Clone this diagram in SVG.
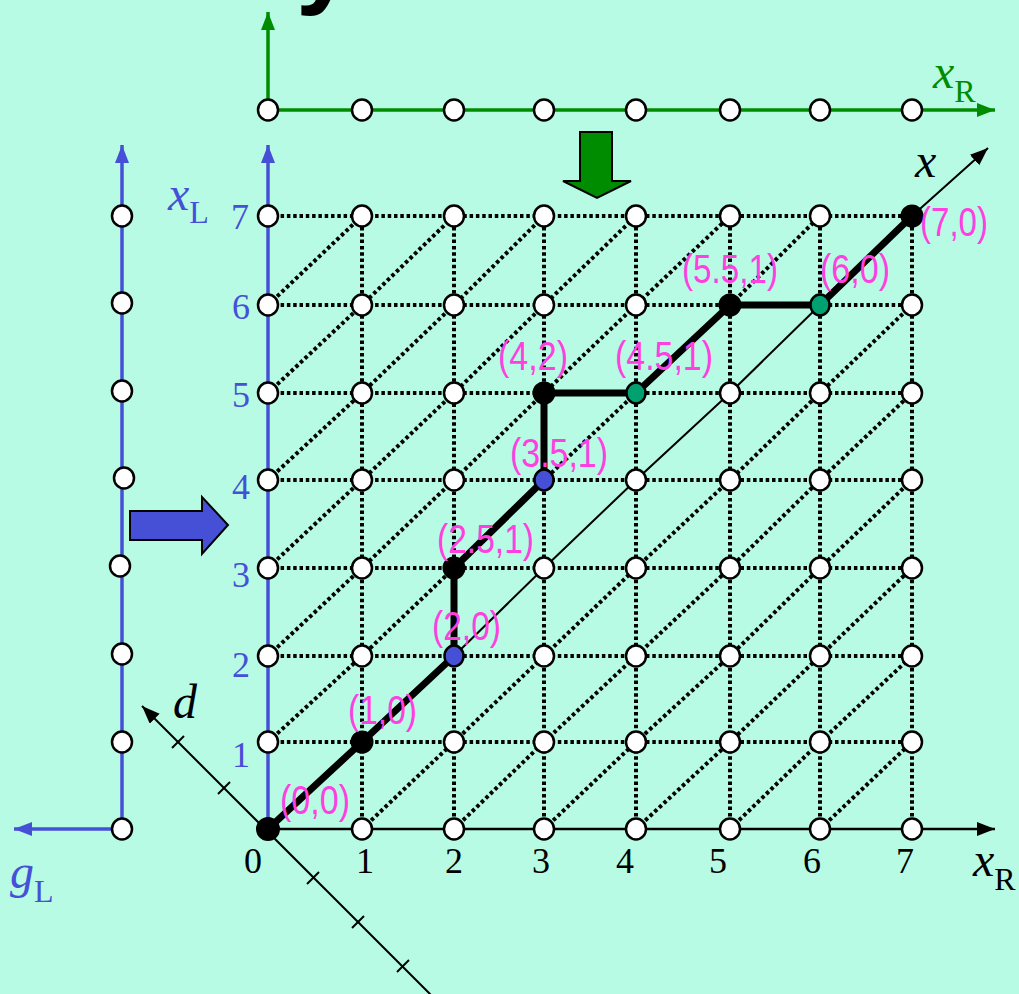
<svg xmlns="http://www.w3.org/2000/svg" width="1019" height="994" viewBox="0 0 1019 994">
<style>
.dot{fill:none;stroke:#000;stroke-width:4;stroke-dasharray:3.5 2.8}
.wn{fill:#fff;stroke:#000;stroke-width:2.5}
.bn{fill:#000;stroke:#000;stroke-width:2}
.blu{fill:#4650D6;stroke:#000;stroke-width:2.5}
.grn{fill:#00A070;stroke:#000;stroke-width:2.5}
.lab{font-family:"Liberation Sans",Arial,sans-serif;font-size:40px;fill:#FF40E0}
.num{font-family:"Liberation Serif","Times New Roman",serif;font-size:36px;fill:#000;text-anchor:middle}
.bnum{font-family:"Liberation Serif","Times New Roman",serif;font-size:36px;fill:#4650D6;text-anchor:middle}
.it{font-family:"Liberation Serif","Times New Roman",serif;font-style:italic;font-size:48px}
.sub{font-family:"Liberation Serif","Times New Roman",serif;font-size:32px}
</style>
<defs>
<marker id="ak" markerUnits="userSpaceOnUse" markerWidth="20" markerHeight="16" refX="18" refY="7" orient="auto"><path d="M0,0 L18,7 L0,14 z" fill="#000"/></marker>
<marker id="ag" markerUnits="userSpaceOnUse" markerWidth="20" markerHeight="16" refX="18" refY="7" orient="auto"><path d="M0,0 L18,7 L0,14 z" fill="#008C00"/></marker>
<marker id="ab" markerUnits="userSpaceOnUse" markerWidth="20" markerHeight="16" refX="18" refY="7" orient="auto"><path d="M0,0 L18,7 L0,14 z" fill="#4650D6"/></marker>
</defs>
<rect x="0" y="0" width="1019" height="994" fill="#B7FBE4"/>
<text x="296" y="-6" font-family="Liberation Sans,Arial,sans-serif" font-weight="bold" font-size="104" fill="#000">y</text>

<g id="connectors">
<g id="dotted-horizontal">
<line class="dot" x1="268" y1="742" x2="912" y2="742"/>
<line class="dot" x1="268" y1="656" x2="912" y2="656"/>
<line class="dot" x1="268" y1="568" x2="912" y2="568"/>
<line class="dot" x1="268" y1="480" x2="912" y2="480"/>
<line class="dot" x1="268" y1="393" x2="912" y2="393"/>
<line class="dot" x1="268" y1="305" x2="912" y2="305"/>
<line class="dot" x1="268" y1="216" x2="912" y2="216"/>
</g>
<g id="dotted-vertical">
<line class="dot" x1="362" y1="829" x2="362" y2="216"/>
<line class="dot" x1="454" y1="829" x2="454" y2="216"/>
<line class="dot" x1="544" y1="829" x2="544" y2="216"/>
<line class="dot" x1="636" y1="829" x2="636" y2="216"/>
<line class="dot" x1="730" y1="829" x2="730" y2="216"/>
<line class="dot" x1="820" y1="829" x2="820" y2="216"/>
<line class="dot" x1="912" y1="829" x2="912" y2="216"/>
</g>
<g id="dotted-diagonal">
<polyline class="dot" points="268,742 362,656 454,568 544,480 636,393 730,305 820,216"/>
<polyline class="dot" points="268,656 362,568 454,480 544,393 636,305 730,216"/>
<polyline class="dot" points="268,568 362,480 454,393 544,305 636,216"/>
<polyline class="dot" points="268,480 362,393 454,305 544,216"/>
<polyline class="dot" points="268,393 362,305 454,216"/>
<polyline class="dot" points="268,305 362,216"/>
<polyline class="dot" points="362,829 454,742 544,656 636,568 730,480 820,393 912,305"/>
<polyline class="dot" points="454,829 544,742 636,656 730,568 820,480 912,393"/>
<polyline class="dot" points="544,829 636,742 730,656 820,568 912,480"/>
<polyline class="dot" points="636,829 730,742 820,656 912,568"/>
<polyline class="dot" points="730,829 820,742 912,656"/>
<polyline class="dot" points="820,829 912,742"/>
</g>
<line x1="268" y1="829" x2="995" y2="829" stroke="#000" stroke-width="2.5" marker-end="url(#ak)"/>
<polyline points="268,829 362,742 454,656 544,568 636,480 730,393 820,305 912,216 988,148" fill="none" stroke="#000" stroke-width="2" marker-end="url(#ak)"/>
<line x1="442" y1="1006" x2="142" y2="706" stroke="#000" stroke-width="2" marker-end="url(#ak)"/>
<g stroke="#000" stroke-width="2">
<line x1="172" y1="748" x2="184" y2="736"/>
<line x1="218" y1="794" x2="230" y2="782"/>
<line x1="307" y1="884" x2="319" y2="872"/>
<line x1="352" y1="928" x2="364" y2="916"/>
<line x1="397" y1="972" x2="409" y2="960"/>
</g>
<line x1="268" y1="829" x2="268" y2="145" stroke="#4650D6" stroke-width="3.5" marker-end="url(#ab)"/>
<line x1="122" y1="829" x2="122" y2="145" stroke="#4650D6" stroke-width="3.5" marker-end="url(#ab)"/>
<line x1="122" y1="829" x2="14" y2="829" stroke="#4650D6" stroke-width="3.5" marker-end="url(#ab)"/>
<line x1="268" y1="110" x2="995" y2="110" stroke="#008C00" stroke-width="3.5" marker-end="url(#ag)"/>
<line x1="268" y1="110" x2="268" y2="12" stroke="#008C00" stroke-width="3.5" marker-end="url(#ag)"/>
<polyline points="268,829 362,742 454,656 454,568 544,480 544,393 636,393 730,305 820,305 912,216" fill="none" stroke="#000" stroke-width="7" stroke-linejoin="round"/>
<polygon points="130,511 202,511 202,497 228,525 202,554 202,540 130,540" fill="#4650D6" stroke="#000" stroke-width="2"/>
<polygon points="580,132 612,132 612,181 631,181 597,198 563,181 580,181" fill="#008C00" stroke="#000" stroke-width="2"/>
</g>

<g id="n-0-0"><ellipse class="bn" cx="268" cy="829" rx="11" ry="11"/></g>
<g id="n-1-0"><ellipse class="wn" cx="362" cy="829" rx="10" ry="10.5"/></g>
<g id="n-2-0"><ellipse class="wn" cx="454" cy="829" rx="10" ry="10.5"/></g>
<g id="n-3-0"><ellipse class="wn" cx="544" cy="829" rx="10" ry="10.5"/></g>
<g id="n-4-0"><ellipse class="wn" cx="636" cy="829" rx="10" ry="10.5"/></g>
<g id="n-5-0"><ellipse class="wn" cx="730" cy="829" rx="10" ry="10.5"/></g>
<g id="n-6-0"><ellipse class="wn" cx="820" cy="829" rx="10" ry="10.5"/></g>
<g id="n-7-0"><ellipse class="wn" cx="912" cy="829" rx="10" ry="10.5"/></g>

<g id="n-0-1"><ellipse class="wn" cx="268" cy="742" rx="10" ry="10.5"/></g>
<g id="n-1-1"><ellipse class="bn" cx="362" cy="742" rx="10.5" ry="10.5"/></g>
<g id="n-2-1"><ellipse class="wn" cx="454" cy="742" rx="10" ry="10.5"/></g>
<g id="n-3-1"><ellipse class="wn" cx="544" cy="742" rx="10" ry="10.5"/></g>
<g id="n-4-1"><ellipse class="wn" cx="636" cy="742" rx="10" ry="10.5"/></g>
<g id="n-5-1"><ellipse class="wn" cx="730" cy="742" rx="10" ry="10.5"/></g>
<g id="n-6-1"><ellipse class="wn" cx="820" cy="742" rx="10" ry="10.5"/></g>
<g id="n-7-1"><ellipse class="wn" cx="912" cy="742" rx="10" ry="10.5"/></g>

<g id="n-0-2"><ellipse class="wn" cx="268" cy="656" rx="10" ry="10.5"/></g>
<g id="n-1-2"><ellipse class="wn" cx="362" cy="656" rx="10" ry="10.5"/></g>
<g id="n-2-2"><ellipse class="blu" cx="454" cy="656" rx="9.5" ry="10.5"/></g>
<g id="n-3-2"><ellipse class="wn" cx="544" cy="656" rx="10" ry="10.5"/></g>
<g id="n-4-2"><ellipse class="wn" cx="636" cy="656" rx="10" ry="10.5"/></g>
<g id="n-5-2"><ellipse class="wn" cx="730" cy="656" rx="10" ry="10.5"/></g>
<g id="n-6-2"><ellipse class="wn" cx="820" cy="656" rx="10" ry="10.5"/></g>
<g id="n-7-2"><ellipse class="wn" cx="912" cy="656" rx="10" ry="10.5"/></g>

<g id="n-0-3"><ellipse class="wn" cx="268" cy="568" rx="10" ry="10.5"/></g>
<g id="n-1-3"><ellipse class="wn" cx="362" cy="568" rx="10" ry="10.5"/></g>
<g id="n-2-3"><ellipse class="bn" cx="454" cy="568" rx="10.5" ry="10.5"/></g>
<g id="n-3-3"><ellipse class="wn" cx="544" cy="568" rx="10" ry="10.5"/></g>
<g id="n-4-3"><ellipse class="wn" cx="636" cy="568" rx="10" ry="10.5"/></g>
<g id="n-5-3"><ellipse class="wn" cx="730" cy="568" rx="10" ry="10.5"/></g>
<g id="n-6-3"><ellipse class="wn" cx="820" cy="568" rx="10" ry="10.5"/></g>
<g id="n-7-3"><ellipse class="wn" cx="912" cy="568" rx="10" ry="10.5"/></g>

<g id="n-0-4"><ellipse class="wn" cx="268" cy="480" rx="10" ry="10.5"/></g>
<g id="n-1-4"><ellipse class="wn" cx="362" cy="480" rx="10" ry="10.5"/></g>
<g id="n-2-4"><ellipse class="wn" cx="454" cy="480" rx="10" ry="10.5"/></g>
<g id="n-3-4"><ellipse class="blu" cx="544" cy="480" rx="9.5" ry="10.5"/></g>
<g id="n-4-4"><ellipse class="wn" cx="636" cy="480" rx="10" ry="10.5"/></g>
<g id="n-5-4"><ellipse class="wn" cx="730" cy="480" rx="10" ry="10.5"/></g>
<g id="n-6-4"><ellipse class="wn" cx="820" cy="480" rx="10" ry="10.5"/></g>
<g id="n-7-4"><ellipse class="wn" cx="912" cy="480" rx="10" ry="10.5"/></g>

<g id="n-0-5"><ellipse class="wn" cx="268" cy="393" rx="10" ry="10.5"/></g>
<g id="n-1-5"><ellipse class="wn" cx="362" cy="393" rx="10" ry="10.5"/></g>
<g id="n-2-5"><ellipse class="wn" cx="454" cy="393" rx="10" ry="10.5"/></g>
<g id="n-3-5"><ellipse class="bn" cx="544" cy="393" rx="10.5" ry="10.5"/></g>
<g id="n-4-5"><ellipse class="grn" cx="636" cy="393" rx="9.5" ry="10.5"/></g>
<g id="n-5-5"><ellipse class="wn" cx="730" cy="393" rx="10" ry="10.5"/></g>
<g id="n-6-5"><ellipse class="wn" cx="820" cy="393" rx="10" ry="10.5"/></g>
<g id="n-7-5"><ellipse class="wn" cx="912" cy="393" rx="10" ry="10.5"/></g>

<g id="n-0-6"><ellipse class="wn" cx="268" cy="305" rx="10" ry="10.5"/></g>
<g id="n-1-6"><ellipse class="wn" cx="362" cy="305" rx="10" ry="10.5"/></g>
<g id="n-2-6"><ellipse class="wn" cx="454" cy="305" rx="10" ry="10.5"/></g>
<g id="n-3-6"><ellipse class="wn" cx="544" cy="305" rx="10" ry="10.5"/></g>
<g id="n-4-6"><ellipse class="wn" cx="636" cy="305" rx="10" ry="10.5"/></g>
<g id="n-5-6"><ellipse class="bn" cx="730" cy="305" rx="10.5" ry="10.5"/></g>
<g id="n-6-6"><ellipse class="grn" cx="820" cy="305" rx="9.5" ry="10.5"/></g>
<g id="n-7-6"><ellipse class="wn" cx="912" cy="305" rx="10" ry="10.5"/></g>

<g id="n-0-7"><ellipse class="wn" cx="268" cy="216" rx="10" ry="10.5"/></g>
<g id="n-1-7"><ellipse class="wn" cx="362" cy="216" rx="10" ry="10.5"/></g>
<g id="n-2-7"><ellipse class="wn" cx="454" cy="216" rx="10" ry="10.5"/></g>
<g id="n-3-7"><ellipse class="wn" cx="544" cy="216" rx="10" ry="10.5"/></g>
<g id="n-4-7"><ellipse class="wn" cx="636" cy="216" rx="10" ry="10.5"/></g>
<g id="n-5-7"><ellipse class="wn" cx="730" cy="216" rx="10" ry="10.5"/></g>
<g id="n-6-7"><ellipse class="wn" cx="820" cy="216" rx="10" ry="10.5"/></g>
<g id="n-7-7"><ellipse class="bn" cx="912" cy="216" rx="10.5" ry="10.5"/></g>

<g id="t-0"><ellipse class="wn" cx="268" cy="110" rx="10" ry="10.5"/></g>
<g id="t-1"><ellipse class="wn" cx="362" cy="110" rx="10" ry="10.5"/></g>
<g id="t-2"><ellipse class="wn" cx="454" cy="110" rx="10" ry="10.5"/></g>
<g id="t-3"><ellipse class="wn" cx="544" cy="110" rx="10" ry="10.5"/></g>
<g id="t-4"><ellipse class="wn" cx="636" cy="110" rx="10" ry="10.5"/></g>
<g id="t-5"><ellipse class="wn" cx="730" cy="110" rx="10" ry="10.5"/></g>
<g id="t-6"><ellipse class="wn" cx="820" cy="110" rx="10" ry="10.5"/></g>
<g id="t-7"><ellipse class="wn" cx="912" cy="110" rx="10" ry="10.5"/></g>

<g id="l-0"><ellipse class="wn" cx="122" cy="829" rx="10" ry="10.5"/></g>
<g id="l-1"><ellipse class="wn" cx="122" cy="742" rx="10" ry="10.5"/></g>
<g id="l-2"><ellipse class="wn" cx="122" cy="654" rx="10" ry="10.5"/></g>
<g id="l-3"><ellipse class="wn" cx="120" cy="566" rx="10" ry="10.5"/></g>
<g id="l-4"><ellipse class="wn" cx="124" cy="478" rx="10" ry="10.5"/></g>
<g id="l-5"><ellipse class="wn" cx="122" cy="391" rx="10" ry="10.5"/></g>
<g id="l-6"><ellipse class="wn" cx="122" cy="303" rx="10" ry="10.5"/></g>
<g id="l-7"><ellipse class="wn" cx="122" cy="216" rx="10" ry="10.5"/></g>

<g id="labels">
<text class="lab" x="280" y="814" textLength="70" lengthAdjust="spacingAndGlyphs">(0,0)</text>
<text class="lab" x="348" y="724" textLength="69" lengthAdjust="spacingAndGlyphs">(1,0)</text>
<text class="lab" x="432" y="640" textLength="69" lengthAdjust="spacingAndGlyphs">(2,0)</text>
<text class="lab" x="437" y="553" textLength="97" lengthAdjust="spacingAndGlyphs">(2.5,1)</text>
<text class="lab" x="510" y="467" textLength="98" lengthAdjust="spacingAndGlyphs">(3.5,1)</text>
<text class="lab" x="498" y="370" textLength="70" lengthAdjust="spacingAndGlyphs">(4,2)</text>
<text class="lab" x="615" y="370" textLength="98" lengthAdjust="spacingAndGlyphs">(4.5,1)</text>
<text class="lab" x="682" y="283" textLength="96" lengthAdjust="spacingAndGlyphs">(5.5,1)</text>
<text class="lab" x="820" y="283" textLength="70" lengthAdjust="spacingAndGlyphs">(6,0)</text>
<text class="lab" x="920" y="236" textLength="68" lengthAdjust="spacingAndGlyphs">(7,0)</text>
</g>

<g id="xr-numbers">
<text class="num" x="253" y="873">0</text>
<text class="num" x="365" y="873">1</text>
<text class="num" x="454" y="873">2</text>
<text class="num" x="541" y="873">3</text>
<text class="num" x="625" y="873">4</text>
<text class="num" x="718" y="873">5</text>
<text class="num" x="812" y="873">6</text>
<text class="num" x="905" y="873">7</text>
</g>
<g id="xl-numbers">
<text class="bnum" x="240" y="229">7</text>
<text class="bnum" x="241" y="319">6</text>
<text class="bnum" x="241" y="407">5</text>
<text class="bnum" x="241" y="499">4</text>
<text class="bnum" x="241" y="587">3</text>
<text class="bnum" x="241" y="677">2</text>
<text class="bnum" x="241" y="767">1</text>
</g>

<text x="168" y="210" fill="#4650D6"><tspan class="it">x</tspan><tspan class="sub" dy="13">L</tspan></text>
<text x="10" y="888" fill="#4650D6"><tspan class="it" font-size="52">g</tspan><tspan class="sub" dy="14">L</tspan></text>
<text x="933" y="88" fill="#008C00"><tspan class="it">x</tspan><tspan class="sub" dy="14">R</tspan></text>
<text x="973" y="876" fill="#000"><tspan class="it">x</tspan><tspan class="sub" dy="14">R</tspan></text>
<text class="it" x="915" y="177" fill="#000">x</text>
<text class="it" x="173" y="718" fill="#000">d</text>
</svg>
